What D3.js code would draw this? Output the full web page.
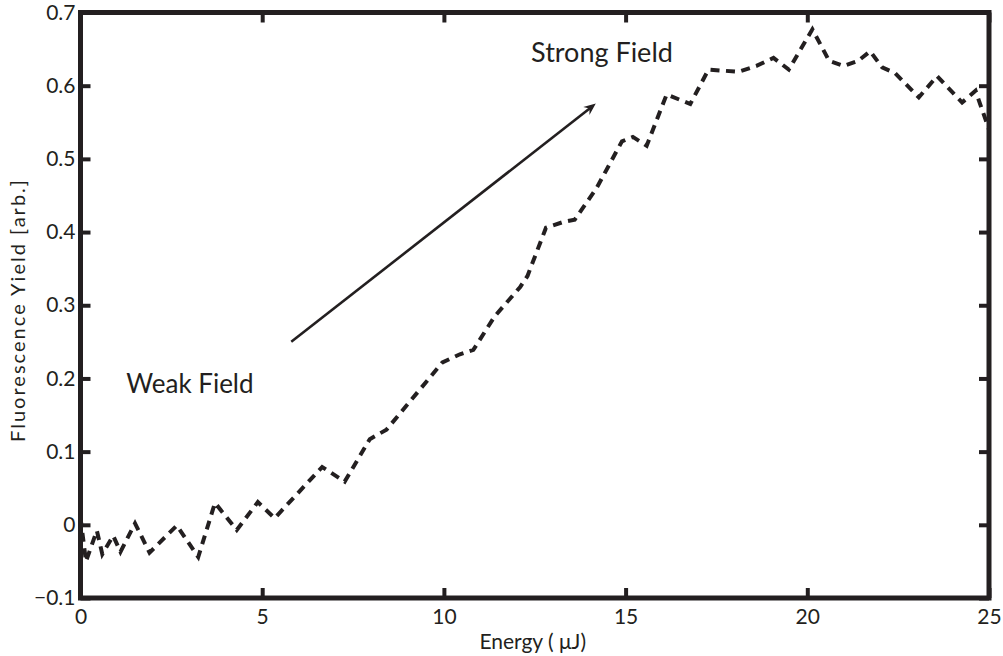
<!DOCTYPE html>
<html>
<head>
<meta charset="utf-8">
<script src="https://cdn.jsdelivr.net/npm/d3@7"></script>
<style>
  body { margin: 0; background: #ffffff; }
  svg { display: block; }
  text { font-family: "Lato", "Open Sans", sans-serif; fill: #231f20; }
</style>
</head>
<body>
<svg id="chart" width="1003" height="656"></svg>
<script>
// ---- data ----
const energy = [0, 0.15, 0.45, 0.6, 0.9, 1.1, 1.5, 1.9, 2.65, 3.24, 3.7, 4.3, 4.88, 5.34,
  6.65, 7.27, 7.96, 8.42, 9.96, 10.44, 10.81, 11.4, 12.1, 12.3, 12.81, 13.3, 13.6, 14.2,
  14.9, 15.2, 15.58, 16.13, 16.78, 17.28, 18.1, 18.6, 19.07, 19.49, 20.14, 20.6, 21.0,
  21.4, 21.73, 22.06, 22.42, 23.07, 23.57, 24.26, 24.63, 25];
const fluorescence = [0.01, -0.05, -0.008, -0.04, -0.015, -0.037, 0.002, -0.038, -0.001, -0.044,
  0.03, -0.007, 0.031, 0.009, 0.079, 0.059, 0.117, 0.13, 0.222, 0.233, 0.239, 0.285, 0.325,
  0.34, 0.406, 0.414, 0.417, 0.46, 0.524, 0.53, 0.518, 0.588, 0.575, 0.622, 0.619, 0.627,
  0.638, 0.622, 0.677, 0.634, 0.627, 0.634, 0.647, 0.625, 0.617, 0.584, 0.613, 0.577,
  0.593, 0.54];
const xTicks = [0, 5, 10, 15, 20, 25];
const yTicks = [-0.1, 0, 0.1, 0.2, 0.3, 0.4, 0.5, 0.6, 0.7];
const xLabel = "Energy ( \u03bcJ)";
const yLabel = "Fluorescence Yield [arb.]";
const arrowStart = [5.8, 0.25];
const arrowEnd = [14.18, 0.5755];
const annotations = [
  { text: "Strong Field", x: 12.4, y: 0.633, size: 27 },
  { text: "Weak Field", x: 1.26, y: 0.18, size: 26 }
];

// ---- layout ----
const ink = "#231f20";
const pL = 80.5, pR = 989, pT = 12.5, pB = 598;
const svg = d3.select("#chart");
const x = d3.scaleLinear().domain([0, 25]).range([pL, pR]);
const y = d3.scaleLinear().domain([-0.1, 0.7]).range([pB, pT]);

// data line
const line = d3.line().x((d, i) => x(energy[i])).y(d => y(d));
svg.append("path")
  .datum(fluorescence)
  .attr("d", line)
  .attr("fill", "none")
  .attr("stroke", ink)
  .attr("stroke-width", 4)
  .attr("stroke-dasharray", "9,6.5")
  .attr("stroke-linejoin", "miter");

// arrow
const ax0 = x(arrowStart[0]), ay0 = y(arrowStart[1]);
const ax1 = x(arrowEnd[0]), ay1 = y(arrowEnd[1]);
const angR = Math.atan2(ay1 - ay0, ax1 - ax0);
const ang = angR * 180 / Math.PI;
svg.append("line")
  .attr("x1", ax0).attr("y1", ay0)
  .attr("x2", ax1 - 5 * Math.cos(angR))
  .attr("y2", ay1 - 5 * Math.sin(angR))
  .attr("stroke", ink).attr("stroke-width", 2.6);
svg.append("path")
  .attr("d", "M0,0 L-12,-5 L-8,0 L-12,5 Z")
  .attr("transform", `translate(${ax1},${ay1}) rotate(${ang})`)
  .attr("fill", ink);

// annotations
svg.selectAll("text.annot").data(annotations).join("text")
  .attr("class", "annot")
  .attr("x", d => x(d.x)).attr("y", d => y(d.y))
  .attr("font-size", d => d.size)
  .text(d => d.text);

// axes
const fmt = d => d === 0 ? "0" : d3.format(".1f")(d);
const gx = svg.append("g").attr("transform", `translate(0,${pB})`)
  .call(d3.axisBottom(x).tickValues(xTicks).tickSize(-10).tickPadding(11).tickFormat(d3.format("d")));
const gy = svg.append("g").attr("transform", `translate(${pL},0)`)
  .call(d3.axisLeft(y).tickValues(yTicks).tickSize(-10).tickPadding(5).tickFormat(fmt));
const gt = svg.append("g").attr("transform", `translate(0,${pT})`)
  .call(d3.axisTop(x).tickValues(xTicks).tickSize(-10).tickFormat(""));
const gr = svg.append("g").attr("transform", `translate(${pR},0)`)
  .call(d3.axisRight(y).tickValues(yTicks).tickSize(-10).tickFormat(""));
[gx, gy, gt, gr].forEach(g => {
  g.select(".domain").remove();
  g.selectAll(".tick line").attr("stroke", ink).attr("stroke-width", 4);
  g.selectAll(".tick text").attr("fill", ink).attr("font-size", 21)
    .attr("font-family", "Lato, 'Open Sans', sans-serif");
});

// frame
svg.append("rect")
  .attr("x", pL).attr("y", pT)
  .attr("width", pR - pL).attr("height", pB - pT)
  .attr("fill", "none").attr("stroke", ink).attr("stroke-width", 5);

// axis labels
svg.append("text")
  .attr("x", (pL + pR) / 2 - 2).attr("y", 649)
  .attr("text-anchor", "middle").attr("font-size", 21)
  .text(xLabel);
svg.append("text")
  .attr("transform", `translate(25,311) rotate(-90)`)
  .attr("text-anchor", "middle").attr("font-size", 20)
  .attr("textLength", 262).attr("lengthAdjust", "spacing")
  .text(yLabel);
</script>
</body>
</html>
